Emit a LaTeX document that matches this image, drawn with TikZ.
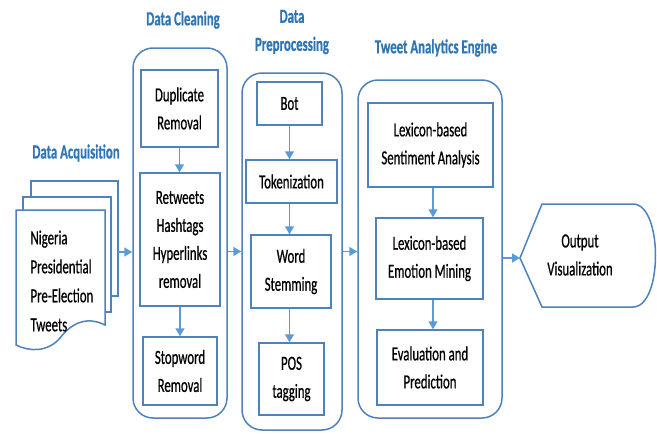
\documentclass[tikz,border=0pt]{standalone}
\usepackage{fontspec}
\setmainfont{Carlito}[FakeStretch=0.64,FakeBold=0.6]
\usetikzlibrary{arrows.meta}
\definecolor{edge}{HTML}{4F81BD}
\definecolor{arrowblue}{HTML}{5B9BD5}
\definecolor{title}{HTML}{2E75B6}

\begin{document}
\begin{tikzpicture}[x=1pt,y=-1pt,
  every node/.style={font=\fontsize{20}{28}\selectfont},
  box/.style={draw=edge,line width=1.5pt,fill=white,align=center,inner sep=0pt},
  group/.style={draw=edge,line width=1.5pt,rounded corners=20pt,inner sep=0pt},
  page/.style={draw=edge,line width=1.5pt,fill=white},
  flow/.style={draw=arrowblue,line width=1.5pt,-{Triangle[length=8pt,width=9pt]}},
  heading/.style={text=title,font=\fontsize{20}{28}\selectfont\bfseries,align=center}]

\useasboundingbox (0,0) rectangle (657,434);

% headings
\node[heading] (hacq)  at (76,153)  {Data Acquisition};
\node[heading] (hclean) at (183,20) {Data Cleaning};
\node[heading] (hprep) at (292,32)  {Data\\Preprocessing};
\node[heading] (hana)  at (436,48)  {Tweet Analytics Engine};

% tweet collection (stacked documents)
\path[page] (31,181) rectangle (118,296);
\path[page] (23,197) rectangle (111,312);
\path[page] (16,210) -- (105,210) -- (105,325)
   .. controls (85,315) and (70,325) .. (60,338)
   .. controls (48,352) and (30,352) .. (16,345) -- cycle;
\node[anchor=west,align=left,font=\fontsize{20}{29}\selectfont] (acq) at (27,281)
   {Nigeria\\Presidential\\Pre-Election\\Tweets};
\coordinate (stackout) at (118,252);

% grouping frames
\node[group,minimum width=94pt,minimum height=370pt]  (clean) at (180,233) {};
\node[group,minimum width=100pt,minimum height=357pt] (prep)  at (292,251.5) {};
\node[group,minimum width=144pt,minimum height=338pt] (ana)   at (430,249) {};

% data cleaning
\node[box,minimum width=77pt,minimum height=77pt]  (dup)  at (179.5,108.5) {Duplicate\\Removal};
\node[box,minimum width=80pt,minimum height=133pt] (rt)   at (180,239.5)   {Retweets\\Hashtags\\Hyperlinks\\removal};
\node[box,minimum width=74pt,minimum height=68pt]  (stop) at (180,371)     {Stopword\\Removal};

% data preprocessing
\node[box,minimum width=65pt,minimum height=43pt] (bot)  at (289.5,103.5) {Bot};
\node[box,minimum width=91pt,minimum height=43pt] (tok)  at (291.5,181.5) {Tokenization};
\node[box,minimum width=80pt,minimum height=73pt] (stem) at (291,271.5)   {Word\\Stemming};
\node[box,minimum width=65pt,minimum height=72pt] (pos)  at (291.5,379)   {POS\\tagging};

% analytics engine
\node[box,minimum width=125pt,minimum height=84pt] (sent) at (430.5,145)   {Lexicon-based\\Sentiment Analysis};
\node[box,minimum width=107pt,minimum height=81pt] (emo)  at (429.5,258.5) {Lexicon-based\\Emotion Mining};
\node[box,minimum width=106pt,minimum height=75pt] (eval) at (430,367.5)   {Evaluation and\\Prediction};

% output display shape
\coordinate (outtip) at (520,258);
\path[page] (outtip) -- (542,204) -- (633,204)
   .. controls (663,204) and (663,307) .. (633,307) -- (542,307) -- cycle;
\node[align=center] (out) at (580,255) {Output\\Visualization};

% connectors inside the groups
\draw[flow] (dup.south) -- (dup.south |- rt.north);
\draw[flow] (rt.south) -- (rt.south |- stop.north);
\draw[flow] (bot.south) -- (bot.south |- tok.north);
\draw[flow] (bot.south |- tok.south) -- (bot.south |- stem.north);
\draw[flow] (bot.south |- stem.south) -- (bot.south |- pos.north);
\coordinate (anax) at (433,0);
\draw[flow] (anax |- sent.south) -- (anax |- emo.north);
\draw[flow] (anax |- emo.south) -- (anax |- eval.north);

% connectors between stages
\draw[flow] (stackout) -- (clean.west |- stackout);
\draw[flow] (clean.east |- prep.west) -- (prep.west);
\draw[flow] (prep.east) -- (prep.east -| ana.west);
\draw[flow] (ana.east |- outtip) -- (outtip);
\end{tikzpicture}
\end{document}
